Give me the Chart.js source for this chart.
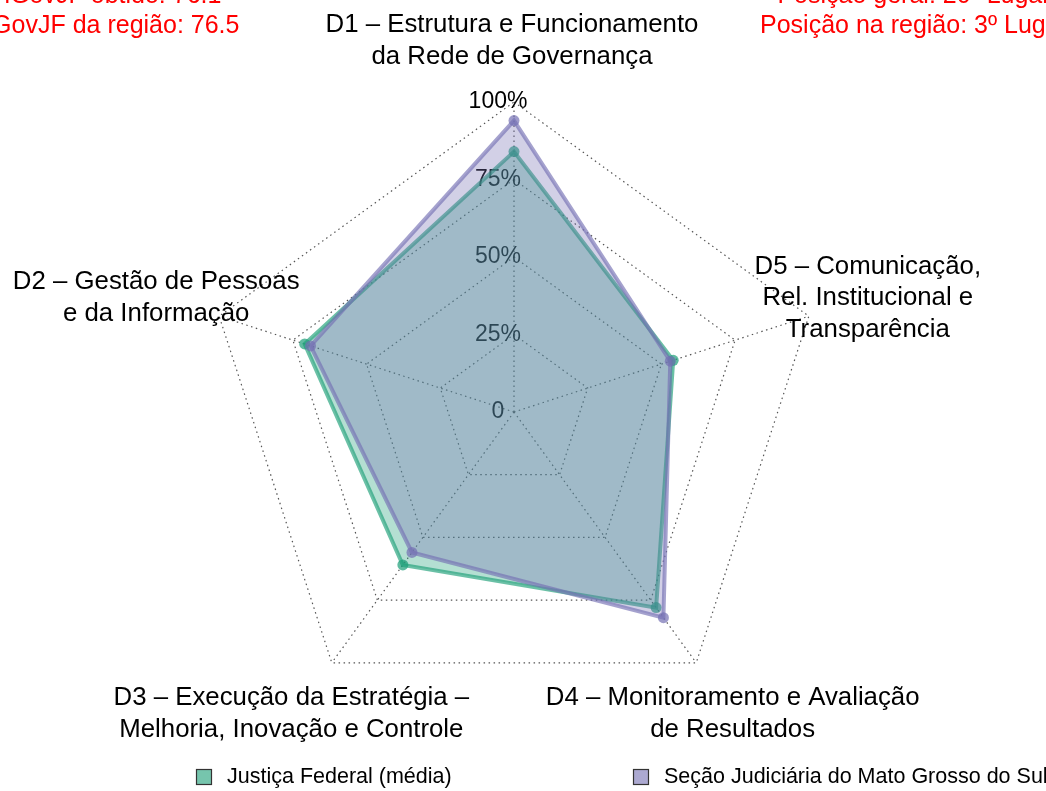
<!DOCTYPE html>
<html>
<head>
<meta charset="utf-8">
<script src="https://cdn.jsdelivr.net/npm/chart.js@4/dist/chart.umd.min.js"></script>
<style>
  body { margin: 0; background: #fff; }
  canvas { display: block; }
</style>
</head>
<body>
<canvas id="myChart" width="1046" height="791"></canvas>
<script>
//dimensions, in clockwise order starting at the top
let dimensions = [
    ['D1 – Estrutura e Funcionamento', 'da Rede de Governança'],
    ['D5 – Comunicação,', 'Rel. Institucional e', 'Transparência'],
    ['D4 – Monitoramento e Avaliação', 'de Resultados'],
    ['D3 – Execução da Estratégia –', 'Melhoria, Inovação e Controle'],
    ['D2 – Gestão de Pessoas', 'e da Informação']
];

//scores in % (same order as dimensions)
let jfMedia = [84, 54, 78, 61, 71];
let sjms = [94, 53, 82, 56, 69];

let seriesNames = ['Justiça Federal (média)', 'Seção Judiciária do Mato Grosso do Sul'];

let tickValues = [0, 25, 50, 75, 100];
let tickLabels = ['0', '25%', '50%', '75%', '100%'];

//red notes at the top corners
let notesLeft = ['iGovJF obtido: 76.1', 'iGovJF da região: 76.5'];
let notesRight = ['Posição geral: 20º Lugar', 'Posição na região: 3º Lugar'];

const green = '27,158,119';
const purple = '117,112,179';
const FONT = '"Liberation Sans", Arial, sans-serif';

//draws tick labels under the polygons, and the texts / legend on top
const extraText = {
    id: 'extraText',
    beforeDatasetsDraw(chart) {
        const scale = chart.scales.r;
        const ctx = chart.ctx;
        ctx.save();
        ctx.font = '23px ' + FONT;
        ctx.fillStyle = '#000';
        ctx.textAlign = 'center';
        ctx.textBaseline = 'middle';
        tickValues.forEach((v, i) => {
            let y = scale.yCenter - scale.getDistanceFromCenterForValue(v);
            ctx.fillText(tickLabels[i], scale.xCenter - 16, y);
        });
        ctx.restore();
    },
    afterDraw(chart) {
        const scale = chart.scales.r;
        const ctx = chart.ctx;
        ctx.save();

        //dimension labels
        ctx.font = '25.8px ' + FONT;
        ctx.fillStyle = '#000';
        ctx.textAlign = 'center';
        ctx.textBaseline = 'middle';
        const lineH = 31.5;
        dimensions.forEach((lines, i) => {
            let p = scale.getPointPosition(i, scale.drawingArea * 1.2);
            let y0 = p.y + 1 - (lines.length - 1) * lineH / 2;
            let x = p.x + Math.sign(Math.round(p.x - scale.xCenter)) * 2 - 2;
            lines.forEach((t, j) => ctx.fillText(t, x, y0 + j * lineH));
        });

        //red notes
        ctx.font = '25px ' + FONT;
        ctx.fillStyle = '#ff0000';
        ctx.textBaseline = 'alphabetic';
        notesLeft.forEach((t, j) => ctx.fillText(t, 113, 3 + j * 29.5));
        notesRight.forEach((t, j) => ctx.fillText(t, 914, 3 + j * 29.5));

        //legend
        let legendX = [196, 633];
        let colors = [green, purple];
        seriesNames.forEach((name, i) => {
            ctx.fillStyle = 'rgba(' + colors[i] + ',0.6)';
            ctx.fillRect(legendX[i], 769, 15, 15);
            ctx.strokeStyle = '#333';
            ctx.lineWidth = 1.2;
            ctx.strokeRect(legendX[i] + 0.5, 769.5, 15, 15);
            ctx.fillStyle = '#000';
            ctx.font = '21.5px ' + FONT;
            ctx.textAlign = 'left';
            ctx.textBaseline = 'middle';
            ctx.fillText(name, legendX[i] + 31, 777);
        });
        ctx.restore();
    }
};

const ctx = document.getElementById('myChart').getContext('2d');
const myChart = new Chart(ctx, {
    type: 'radar',
    data: {
        labels: dimensions,
        datasets: [{
            label: seriesNames[0],
            data: jfMedia,
            backgroundColor: 'rgba(' + green + ',0.33)',
            borderColor: 'rgba(' + green + ',0.65)',
            pointBackgroundColor: 'rgba(' + green + ',0.7)',
            borderWidth: 4,
            pointRadius: 5.5,
            pointBorderWidth: 0,
            fill: true,
            order: 2
        }, {
            label: seriesNames[1],
            data: sjms,
            backgroundColor: 'rgba(' + purple + ',0.33)',
            borderColor: 'rgba(' + purple + ',0.65)',
            pointBackgroundColor: 'rgba(' + purple + ',0.7)',
            borderWidth: 4,
            pointRadius: 5.5,
            pointBorderWidth: 0,
            fill: true,
            order: 1
        }]
    },
    options: {
        responsive: false,
        animation: false,
        layout: {
            padding: { left: 204, right: 222, top: 102, bottom: 69 }
        },
        plugins: {
            legend: { display: false },
            tooltip: { enabled: false }
        },
        scales: {
            r: {
                min: 0,
                max: 100,
                ticks: { display: false, stepSize: 25 },
                grid: { color: '#555', lineWidth: 1.2 },
                border: { dash: [1.5, 3.5] },
                angleLines: { color: '#555', lineWidth: 1.2, borderDash: [1.5, 3.5] },
                pointLabels: { display: false }
            }
        }
    },
    plugins: [extraText]
});
</script>
</body>
</html>
